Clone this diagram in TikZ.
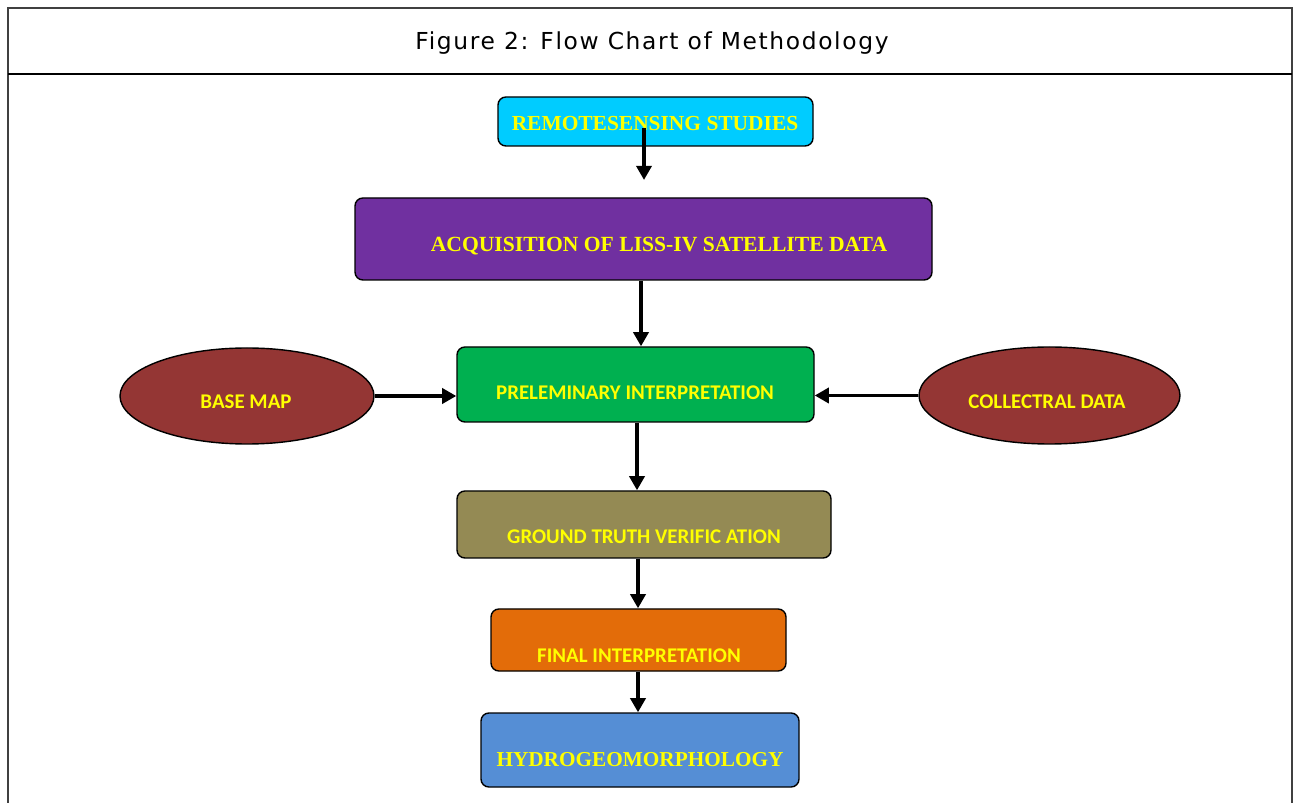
\documentclass[tikz,border=0pt]{standalone}
\usepackage{fontspec}
\setmainfont{Liberation Serif}
\newfontfamily\calib{Carlito}
\newfontfamily\titlefont[LetterSpace=7]{DejaVu Sans}
\usetikzlibrary{arrows.meta,shapes.geometric}
\definecolor{cCyan}{HTML}{00CCFF}
\definecolor{cPurple}{HTML}{7030A0}
\definecolor{cGreen}{HTML}{00B050}
\definecolor{cBrown}{HTML}{943634}
\definecolor{cOlive}{HTML}{948A54}
\definecolor{cOrange}{HTML}{E36C09}
\definecolor{cBlue}{HTML}{558ED5}
\definecolor{cYellow}{HTML}{FFFF00}
\definecolor{cFrame}{HTML}{404040}
\tikzset{
  boxnode/.style={draw=black, line width=0.8pt, rounded corners=4.5pt, inner sep=0pt},
  ovalnode/.style={draw=black, line width=0.8pt, ellipse, inner sep=0pt, fill=cBrown},
  serifbold/.style={text=cYellow, font=\fontsize{12.2}{14}\selectfont\bfseries, inner sep=0pt},
  calibbold/.style={text=cYellow, font=\calib\fontsize{11.9}{14}\selectfont\bfseries, inner sep=0pt},
  flowarrow/.style={line width=2pt, -{Triangle[length=8pt,width=8.5pt]}},
  frameline/.style={draw=cFrame, line width=0.9pt},
}
\begin{document}
\begin{tikzpicture}[x=0.02cm,y=-0.02cm]
\useasboundingbox (0,0) rectangle (1295,803);
% frame
\draw[frameline] (8,803) -- (8,8) -- (1292,8) -- (1292,803);
\draw[line width=1.4pt] (8,74) -- (1292,74);
\node (title) at (652,43) {\titlefont\fontsize{13.3}{15}\selectfont Figure 2: Flow Chart of Methodology};
% boxes
\node[boxnode, fill=cCyan, minimum width=315*0.02cm, minimum height=49*0.02cm] (rs) at (655.5,121.5) {};
\node[serifbold] (rst) at (655,124) {REMOTESENSING STUDIES};
\node[boxnode, fill=cPurple, minimum width=577*0.02cm, minimum height=82*0.02cm] (acq) at (643.5,239) {};
\node[serifbold, font=\fontsize{12.3}{14}\selectfont\bfseries] (acqt) at (659,246) {ACQUISITION OF LISS-IV SATELLITE DATA};
\node[boxnode, fill=cBlue, minimum width=318*0.02cm, minimum height=74*0.02cm] (hyd) at (640,750) {};
\node[serifbold, font=\fontsize{12.1}{14}\selectfont\bfseries] (hydt) at (640,760) {HYDROGEOMORPHOLOGY};
\node[boxnode, fill=cGreen, minimum width=357*0.02cm, minimum height=75*0.02cm] (pre) at (635.5,384.5) {};
\node[calibbold] (pret) at (635,393) {PRELEMINARY INTERPRETATION};
\node[boxnode, fill=cOlive, minimum width=374*0.02cm, minimum height=67*0.02cm] (gt) at (644,524.5) {};
\node[calibbold] (gtt) at (644,537) {GROUND TRUTH VERIFIC ATION};
\node[boxnode, fill=cOrange, minimum width=295*0.02cm, minimum height=62*0.02cm] (fin) at (638.5,640) {};
\node[calibbold] (fint) at (639,656) {FINAL INTERPRETATION};
% ellipses
\node[ovalnode, minimum width=254*0.02cm, minimum height=96*0.02cm] (base) at (247,396) {};
\node[calibbold] (baset) at (246,402) {BASE MAP};
\node[ovalnode, minimum width=261*0.02cm, minimum height=97*0.02cm] (coll) at (1049.5,395.5) {};
\node[calibbold] (collt) at (1047,402) {COLLECTRAL DATA};
% arrows
\coordinate (rsend) at (644,180);
\draw[flowarrow] (644,128) -- (rsend);
\draw[flowarrow] (acq.south -| 641,0) -- (pre.north -| 641,0);
\draw[flowarrow] (base.east) -- (pre.west |- base.east);
\draw[flowarrow] (coll.west) -- (pre.east |- coll.west);
\draw[flowarrow] (pre.south -| 637,0) -- (gt.north -| 637,0);
\draw[flowarrow] (gt.south -| 638,0) -- (fin.north -| 638,0);
\draw[flowarrow] (fin.south -| 638,0) -- (hyd.north -| 638,0);
\end{tikzpicture}
\end{document}
